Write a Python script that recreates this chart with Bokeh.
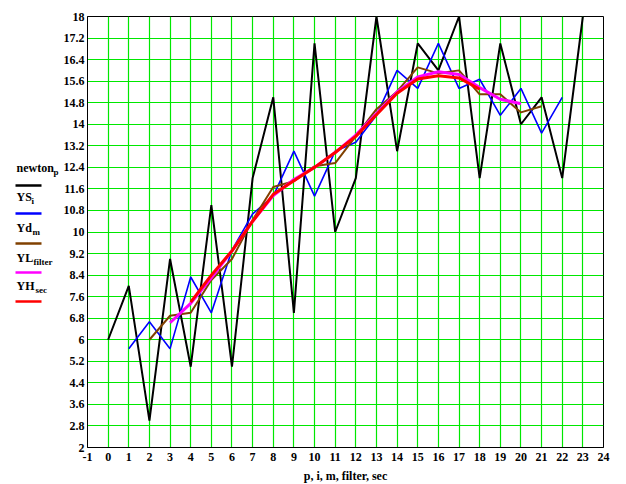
from bokeh.plotting import figure
from bokeh.models import FixedTicker, Range1d
from bokeh.layouts import row
from bokeh.core.properties import value
from bokeh.embed import file_html
from bokeh.resources import INLINE

# ---- data ----
p_idx = list(range(0, 24))
newton_p = [6, 8, 3, 9, 5, 11, 5, 12, 15, 7, 17, 10, 12, 18, 13, 17, 16, 18, 12, 17, 14, 15, 12, 18]

i_idx = list(range(1, 23))
YS_i = [5.67, 6.67, 5.67, 8.33, 7.0, 9.33, 10.67, 11.33, 13.0, 11.33, 13.0,
        13.33, 14.33, 16.0, 15.33, 17.0, 15.33, 15.67, 14.33, 15.33, 13.67, 15.0]

m_idx = list(range(2, 22))
Yd_m = [6.0, 6.89, 7.0, 8.22, 9.0, 10.44, 11.67, 11.89, 12.44, 12.56,
        13.56, 14.56, 15.22, 16.11, 15.89, 16.0, 15.11, 15.11, 14.44, 14.67]

filter_idx = list(range(3, 21))
YL_filter = [6.63, 7.35, 8.3, 9.3, 10.4, 11.35, 11.95, 12.4, 12.95, 13.6,
             14.4, 15.2, 15.76, 15.95, 15.85, 15.36, 14.93, 14.76]

sec_idx = list(range(4, 19))
YH_sec = [7.4, 8.4, 9.3, 10.4, 11.4, 11.9, 12.4, 12.95, 13.55, 14.35,
          15.15, 15.68, 15.8, 15.72, 15.3]

x_ticks = list(range(-1, 25))
x_tick_labels = [str(t) for t in x_ticks]
y_ticks = [2, 2.8, 3.6, 4.4, 5.2, 6, 6.8, 7.6, 8.4, 9.2, 10, 10.8, 11.6, 12.4,
           13.2, 14, 14.8, 15.6, 16.4, 17.2, 18]
y_tick_labels = ["2", "2.8", "3.6", "4.4", "5.2", "6", "6.8", "7.6", "8.4", "9.2",
                 "10", "10.8", "11.6", "12.4", "13.2", "14", "14.8", "15.6",
                 "16.4", "17.2", "18"]

legend_names = ["newton", "YS", "Yd", "YL", "YH"]
legend_subs = ["p", "i", "m", "filter", "sec"]
legend_colors = ["#000000", "#0000FF", "#804000", "#FF00FF", "#FF0000"]
x_title = "p, i, m, filter, sec"

FONT = "Liberation Serif"
TOP = 16
FH = 431
LW = 60

# ---- legend panel (page pixel coordinates) ----
lg = figure(frame_width=LW, frame_height=FH, min_border_left=0, min_border_right=0,
            min_border_top=TOP, min_border_bottom=29,
            x_range=Range1d(0, LW), y_range=Range1d(TOP + FH, TOP),
            x_axis_type=None, y_axis_type=None,
            output_backend="svg", toolbar_location=None)
lg.outline_line_color = None
lg.grid.visible = False

text_y = [167, 196, 227, 257, 285]
line_y = [185, 213, 243, 272, 301]
sub_off = [37, 15, 16, 17, 19]
lg.text(x=[16] * 5, y=text_y, text=legend_names, text_font=value(FONT),
        text_font_style="bold", text_font_size="12px", text_baseline="middle",
        text_align="left", text_color="black")
lg.text(x=[16 + s for s in sub_off], y=[t + 4 for t in text_y], text=legend_subs,
        text_font=value(FONT), text_font_style="bold", text_font_size="9px",
        text_baseline="middle", text_align="left", text_color="black")
lg.multi_line(xs=[[15, 41]] * 5, ys=[[v, v] for v in line_y], line_color=legend_colors,
              line_width=2.5)

# ---- main plot ----
p = figure(frame_width=516, frame_height=FH,
           min_border_left=85 - LW, min_border_right=10, min_border_top=TOP, min_border_bottom=29,
           x_range=Range1d(-1, 24), y_range=Range1d(2, 18),
           output_backend="svg", toolbar_location=None)

p.background_fill_color = "white"
p.border_fill_color = "white"
p.outline_line_color = "black"
p.outline_line_width = 1

p.xaxis.ticker = FixedTicker(ticks=x_ticks)
p.xaxis.major_label_overrides = {t: s for t, s in zip(x_ticks, x_tick_labels)}
p.yaxis.ticker = FixedTicker(ticks=y_ticks)
p.yaxis.major_label_overrides = {t: s for t, s in zip(y_ticks, y_tick_labels)}

for ax in (p.xaxis[0], p.yaxis[0]):
    ax.axis_line_color = "black"
    ax.axis_line_width = 1
    ax.major_tick_line_color = None
    ax.minor_tick_line_color = None
    ax.major_tick_out = 0
    ax.major_tick_in = 0
    ax.minor_tick_out = 0
    ax.minor_tick_in = 0
    ax.major_label_text_font = FONT
    ax.major_label_text_font_style = "bold"
    ax.major_label_text_font_size = "12px"
    ax.major_label_text_color = "black"
p.xaxis.major_label_standoff = 5
p.yaxis.major_label_standoff = 3

p.xaxis.axis_label = x_title
p.xaxis.axis_label_text_font = FONT
p.xaxis.axis_label_text_font_style = "bold"
p.xaxis.axis_label_text_font_size = "12px"
p.xaxis.axis_label_text_color = "black"
p.xaxis.axis_label_standoff = 5

for g in (p.xgrid[0], p.ygrid[0]):
    g.grid_line_color = "#00E800"
    g.grid_line_width = 1.2

p.line(p_idx, newton_p, line_color=legend_colors[0], line_width=2)
p.line(i_idx, YS_i, line_color=legend_colors[1], line_width=1.6)
p.line(m_idx, Yd_m, line_color=legend_colors[2], line_width=2)
p.line(filter_idx, YL_filter, line_color=legend_colors[3], line_width=3)
p.line(sec_idx, YH_sec, line_color=legend_colors[4], line_width=3)

layout = row(lg, p)
open("out.html", "w").write(file_html(layout, INLINE))
